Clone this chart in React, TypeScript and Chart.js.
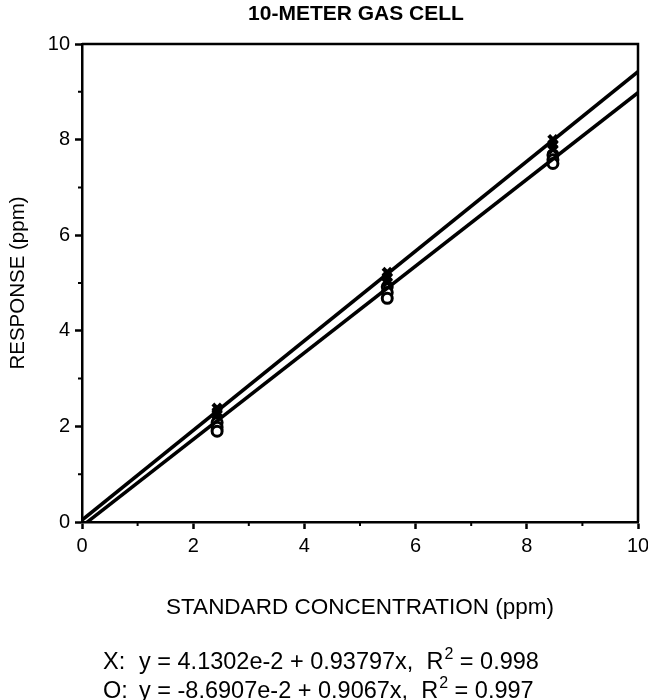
import React, { useEffect, useRef } from "react";
import { Chart, registerables } from "chart.js";

Chart.register(...registerables);

const TITLE = "10-METER GAS CELL";
const X_AXIS_TITLE = "STANDARD CONCENTRATION (ppm)";
const Y_AXIS_TITLE = "RESPONSE (ppm)";

// Replicate measurements at each standard concentration
const standardConc = [2.43, 2.43, 2.43, 5.49, 5.49, 5.49, 8.47, 8.47, 8.47];
const responseX = [2.38, 2.3, 2.24, 5.22, 5.12, 5.02, 8.0, 7.9, 7.8];
const responseO = [2.08, 1.98, 1.9, 4.92, 4.8, 4.68, 7.68, 7.58, 7.5];

// Linear fits: y = intercept + slope * x
const fitNames = ["X", "O"];
const fitIntercepts = ["4.1302e-2", "-8.6907e-2"];
const fitSlopes = ["0.93797", "0.9067"];
const fitR2 = ["0.998", "0.997"];
const fitRange = [0, 10];

const axisMin = 0;
const axisMax = 10;
const minorTicks = [1, 3, 5, 7, 9];

const FONT = "'Liberation Sans', Arial, Helvetica, sans-serif";

function fitLine(i: number) {
  const a = parseFloat(fitIntercepts[i]);
  const b = parseFloat(fitSlopes[i]);
  return fitRange.map((x) => ({ x, y: a + b * x }));
}

const framePlugin = {
  id: "frame",
  afterDraw(chart: any) {
    const { ctx, chartArea, scales } = chart;
    const { left, right, top, bottom } = chartArea;
    ctx.save();
    ctx.strokeStyle = "#000";
    ctx.lineWidth = 2.5;
    ctx.beginPath();
    ctx.moveTo(left, top);
    ctx.lineTo(right, top);
    ctx.lineTo(right, bottom);
    ctx.stroke();

    // minor ticks
    ctx.lineWidth = 2;
    ctx.beginPath();
    for (const v of minorTicks) {
      const px = scales.x.getPixelForValue(v);
      ctx.moveTo(px, bottom);
      ctx.lineTo(px, bottom + 4);
      const py = scales.y.getPixelForValue(v);
      ctx.moveTo(left - 4, py);
      ctx.lineTo(left, py);
    }
    ctx.stroke();

    // title
    ctx.fillStyle = "#000";
    ctx.font = `bold 21px ${FONT}`;
    ctx.textAlign = "center";
    ctx.textBaseline = "middle";
    ctx.fillText(TITLE, 356, 14);

    // fit equations
    ctx.textAlign = "left";
    ctx.textBaseline = "alphabetic";
    const baselines = [669, 698];
    fitNames.forEach((name, i) => {
      const y = baselines[i];
      ctx.font = `23.5px ${FONT}`;
      ctx.fillText(`${name}:`, 103, y);
      let x = 139;
      const head = `y = ${fitIntercepts[i]} + ${fitSlopes[i]}x,  R`;
      ctx.fillText(head, x, y);
      x += ctx.measureText(head).width;
      ctx.font = `16px ${FONT}`;
      ctx.fillText("2", x + 1, y - 10);
      x += ctx.measureText("2").width + 1;
      ctx.font = `23.5px ${FONT}`;
      ctx.fillText(` = ${fitR2[i]}`, x, y);
    });
    ctx.restore();
  },
};

export default function App() {
  const canvasRef = useRef<HTMLCanvasElement | null>(null);

  useEffect(() => {
    const canvas = canvasRef.current;
    if (!canvas) return;
    const pts = (ys: number[]) => standardConc.map((x, i) => ({ x, y: ys[i] }));

    const tickColor = (c: any) =>
      c.tick && Number(c.tick.value) % 2 === 0 ? "#000" : "rgba(0,0,0,0)";
    const evenLabel = (v: any) => (Number(v) % 2 === 0 ? String(v) : "");

    const chart = new Chart(canvas, {
      type: "scatter",
      data: {
        datasets: [
          {
            label: "X fit",
            type: "line",
            data: fitLine(0),
            borderColor: "#000",
            borderWidth: 3.5,
            pointRadius: 0,
            fill: false,
          },
          {
            label: "O fit",
            type: "line",
            data: fitLine(1),
            borderColor: "#000",
            borderWidth: 3.5,
            pointRadius: 0,
            fill: false,
          },
          {
            label: "X",
            data: pts(responseX),
            pointStyle: "crossRot",
            pointRadius: 6,
            borderWidth: 4,
            borderColor: "#000",
            backgroundColor: "#000",
          },
          {
            label: "O",
            data: pts(responseO),
            pointStyle: "circle",
            pointRadius: 5,
            borderWidth: 3,
            borderColor: "#000",
            backgroundColor: "#fff",
          },
        ],
      },
      options: {
        animation: false,
        responsive: false,
        devicePixelRatio: 1,
        layout: { padding: { top: 44, right: 10, left: 0, bottom: 0 } },
        plugins: {
          legend: { display: false },
          tooltip: { enabled: false },
          title: { display: false },
        },
        scales: {
          x: {
            type: "linear",
            min: axisMin,
            max: axisMax,
            afterFit: (s: any) => {
              s.height = 178;
              s.paddingLeft = 0;
              s.paddingRight = 0;
            },
            ticks: {
              stepSize: 1,
              autoSkip: false,
              maxRotation: 0,
              padding: 5,
              color: "#000",
              font: { family: FONT, size: 20 },
              callback: evenLabel,
            },
            grid: {
              drawOnChartArea: false,
              drawTicks: true,
              tickLength: 7,
              tickWidth: 2.5,
              tickColor,
            },
            border: { display: true, color: "#000", width: 2.5 },
            title: {
              display: true,
              text: X_AXIS_TITLE,
              color: "#000",
              font: { family: FONT, size: 22.5 },
              padding: { top: 0, bottom: 79 },
            },
          },
          y: {
            type: "linear",
            min: axisMin,
            max: axisMax,
            afterFit: (s: any) => {
              s.width = 82;
              s.paddingTop = 0;
              s.paddingBottom = 0;
            },
            ticks: {
              stepSize: 1,
              autoSkip: false,
              padding: 5,
              color: "#000",
              font: { family: FONT, size: 20 },
              callback: evenLabel,
            },
            grid: {
              drawOnChartArea: false,
              drawTicks: true,
              tickLength: 7,
              tickWidth: 2.5,
              tickColor,
            },
            border: { display: true, color: "#000", width: 2.5 },
            title: {
              display: true,
              text: Y_AXIS_TITLE,
              color: "#000",
              font: { family: FONT, size: 20.5 },
              padding: { top: 6, bottom: 0 },
            },
          },
        },
      },
      plugins: [framePlugin],
    } as any);

    return () => chart.destroy();
  }, []);

  return (
    <div style={{ position: "absolute", left: 0, top: 0, width: 648, height: 700, background: "#fff" }}>
      <canvas ref={canvasRef} width={648} height={700} style={{ width: 648, height: 700, display: "block" }} />
    </div>
  );
}
